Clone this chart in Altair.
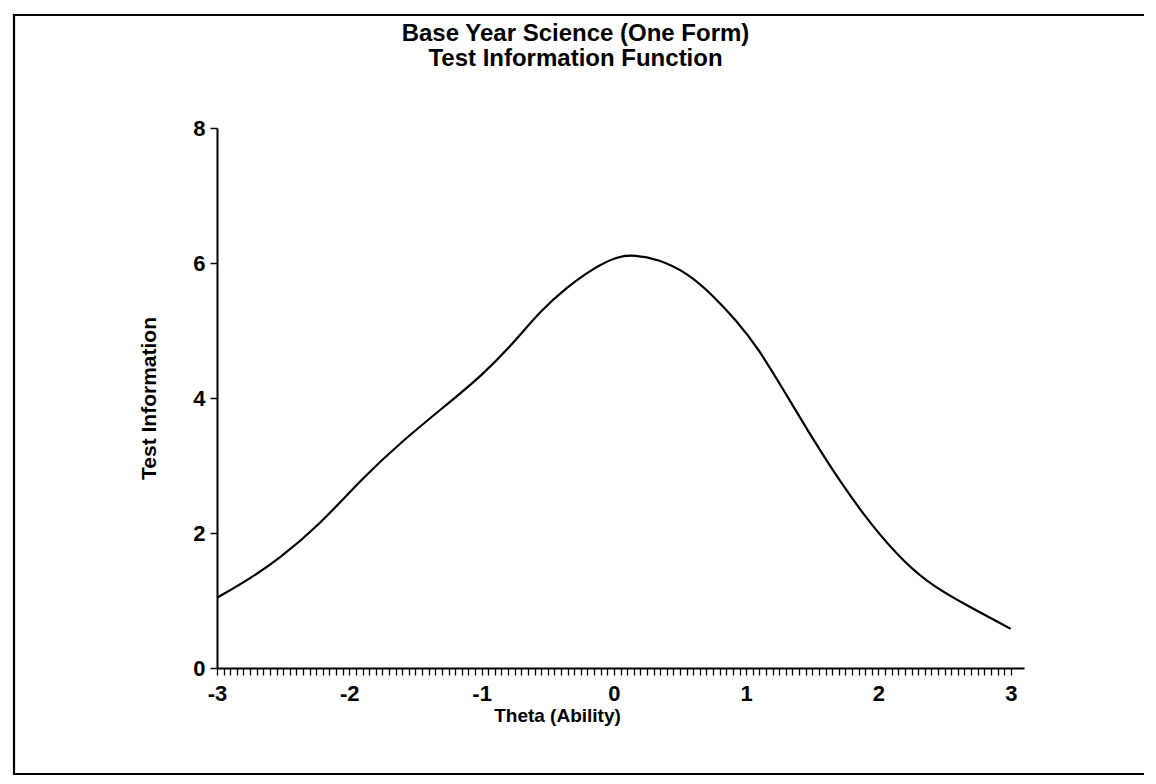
import altair as alt
import pandas as pd

# Data
theta = [-3.0, -2.745, -2.537, -2.23, -1.897, -1.613, -1.259, -0.998, -0.742, -0.565,
         -0.357, -0.15, 0.026, 0.155, 0.33, 0.553, 0.754, 0.924, 1.094, 1.291,
         1.489, 1.709, 1.952, 2.196, 2.42, 2.695, 3.0]
info = [1.04, 1.33, 1.61, 2.11, 2.82, 3.34, 3.91, 4.33, 4.85, 5.27,
        5.64, 5.93, 6.10, 6.12, 6.06, 5.86, 5.51, 5.15, 4.73, 4.09,
        3.44, 2.76, 2.10, 1.56, 1.20, 0.90, 0.58]
y_ticks = [0, 2, 4, 6, 8]
x_ticks = [round(-3 + 0.05 * i, 2) for i in range(121)]

df = pd.DataFrame({"theta": theta, "info": info})

FONT = "Liberation Sans"

x_enc = alt.X(
    "theta:Q",
    scale=alt.Scale(domain=[-3, 3.1], nice=False, zero=False),
    axis=alt.Axis(
        values=x_ticks,
        labelExpr="abs(datum.value - round(datum.value)) < 0.001 ? '' + round(datum.value) : ''",
        labelOverlap=False,
        labelFlush=False,
        grid=False,
        tickSize=7,
        tickWidth=1.3,
        labelPadding=8,
        labelFontSize=22,
        labelFontWeight="bold",
        labelFont=FONT,
        labelColor="black",
        domainColor="black",
        domainWidth=2,
        tickColor="black",
        title="Theta (Ability)",
        titleFont=FONT,
        titleFontSize=19,
        titleFontWeight="bold",
        titleColor="black",
        titleX=340,
        titleAnchor="start",
        titleAlign="center",
        titlePadding=2,
    ),
)

y_enc = alt.Y(
    "info:Q",
    scale=alt.Scale(domain=[0, 8], nice=False),
    axis=alt.Axis(
        values=y_ticks,
        grid=False,
        tickSize=7,
        tickWidth=1.5,
        labelPadding=5,
        labelFontSize=22,
        labelFontWeight="bold",
        labelFont=FONT,
        labelColor="black",
        domainColor="black",
        domainWidth=2,
        tickColor="black",
        title="Test Information",
        titleFont=FONT,
        titleFontSize=21,
        titleFontWeight="bold",
        titleColor="black",
        titlePadding=33,
    ),
)

curve = alt.Chart(df).mark_line(
    color="black", strokeWidth=2.2, interpolate="basis"
).encode(x=x_enc, y=y_enc)

frame = alt.Chart(pd.DataFrame({"k": [0]})).mark_rect(
    fill=None, stroke="black", strokeWidth=2.2, clip=False
).encode(
    x=alt.value(-203), x2=alt.value(931),
    y=alt.value(-113), y2=alt.value(646),
)

chart = alt.layer(curve, frame).properties(
    width=807,
    height=540,
    background="white",
    autosize=alt.AutoSizeParams(type="none"),
    padding={"left": 209, "top": 120, "right": 120, "bottom": 112},
    title=alt.TitleParams(
        text=["Base Year Science (One Form)", "Test Information Function"],
        font=FONT,
        fontSize=24,
        fontWeight="bold",
        lineHeight=25,
        color="black",
        anchor="middle",
        frame="group",
        dx=-45,
        offset=-57,
    ),
).configure_view(stroke="transparent", strokeWidth=0)

chart.save("out.html", embed_options={"renderer": "svg", "actions": False})
